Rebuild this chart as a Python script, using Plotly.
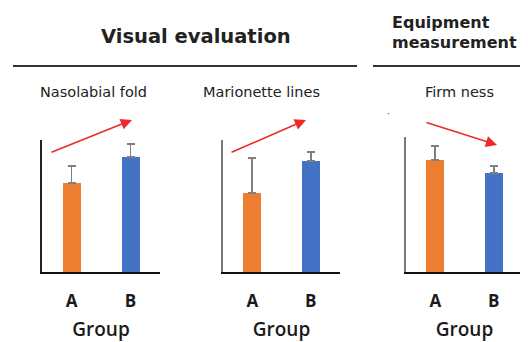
import plotly.graph_objects as go

W, H = 528, 342
OFF = 8  # page body margin of the html page
FW, FH = W - OFF, H - OFF

groups = ["A", "B"]
panel_titles = ["Nasolabial fold", "Marionette lines", "Firm ness"]
means = [[67.4, 87.1], [59.8, 84.1], [83.0, 73.3]]
errors = [[12.9, 9.8], [26.5, 6.8], [10.4, 5.2]]
bar_colors = ["#ED7D31", "#4472C4"]
section_titles = ["Visual evaluation", "Equipment", "measurement"]
# trend arrows (tail -> head) in each panel's data units
arrow_tail = [(-0.364, 90.2), (-0.38, 90.2), (-0.175, 111.1)]
arrow_head = [(1.025, 115.2), (0.919, 115.2), (1.056, 94.1)]

def px_x(p):
    return (p - OFF) / FW

def px_y(p):
    return 1 - (p - OFF) / FH

x_domains = [(42, 160), (223, 340), (406, 523)]
y_tops = [140, 140, 137]
y_base = 272
yaxis_colors = ["#222222", "#7a7a7a", "#7a7a7a"]

fig = go.Figure()
for i in range(3):
    xa = "x" if i == 0 else f"x{i+1}"
    ya = "y" if i == 0 else f"y{i+1}"
    fig.add_trace(go.Bar(
        x=groups, y=means[i], xaxis=xa, yaxis=ya,
        marker=dict(color=bar_colors, line=dict(width=0)),
        width=0.305,
        error_y=dict(type="data", symmetric=False, array=errors[i],
                     arrayminus=[0, 0], color="#7f7f7f", thickness=1.6, width=4),
        showlegend=False,
    ))
    xkey = "xaxis" if i == 0 else f"xaxis{i+1}"
    ykey = "yaxis" if i == 0 else f"yaxis{i+1}"
    fig.layout[xkey] = dict(
        domain=[px_x(x_domains[i][0]), px_x(x_domains[i][1])],
        anchor=ya, range=[-0.5, 1.5], type="category",
        showline=True, linecolor="#111111", linewidth=2,
        showgrid=False, zeroline=False,
        ticks="outside", ticklen=13, tickcolor="rgba(0,0,0,0)",
        tickfont=dict(family="Open Sans", size=17, color="#1a1a1a", weight=700),
        title=dict(text="Group", standoff=11,
                   font=dict(family="Open Sans", size=19, color="#1a1a1a", weight=600)),
    )
    fig.layout[ykey] = dict(
        domain=[px_y(y_base), px_y(y_tops[i])],
        anchor=xa, range=[0, 100],
        showline=True, linecolor=yaxis_colors[i], linewidth=2,
        showgrid=False, zeroline=False, showticklabels=False, ticks="",
    )
    fig.add_annotation(
        x=arrow_head[i][0], y=arrow_head[i][1], xref=xa, yref=ya,
        ax=arrow_tail[i][0], ay=arrow_tail[i][1], axref=xa, ayref=ya,
        text="", showarrow=True, arrowhead=2, arrowsize=1.4,
        arrowwidth=1.6, arrowcolor="#EE2A2A", standoff=0,
    )

# section headings
fig.add_annotation(x=px_x(196), y=px_y(37), xref="paper", yref="paper",
                   xanchor="center", yanchor="middle",
                   text=section_titles[0], showarrow=False,
                   font=dict(family="DejaVu Sans", size=19.5, color="#222222", weight="bold"))
fig.add_annotation(x=px_x(391), y=px_y(23), xref="paper", yref="paper",
                   xanchor="left", yanchor="middle", borderpad=0,
                   text=section_titles[1], showarrow=False,
                   font=dict(family="DejaVu Sans", size=16, color="#222222", weight="bold"))
fig.add_annotation(x=px_x(391), y=px_y(42.5), xref="paper", yref="paper",
                   xanchor="left", yanchor="middle", borderpad=0,
                   text=section_titles[2], showarrow=False,
                   font=dict(family="DejaVu Sans", size=16, color="#222222", weight="bold"))
# panel subtitles
sub_x = [93, 261, 459]
for i in range(3):
    fig.add_annotation(x=px_x(sub_x[i]), y=px_y(92), xref="paper", yref="paper",
                       xanchor="center", yanchor="middle",
                       text=panel_titles[i], showarrow=False,
                       font=dict(family="DejaVu Sans", size=14.5, color="#222222"))
# stray dot
fig.add_annotation(x=px_x(388), y=px_y(114), xref="paper", yref="paper",
                   xanchor="center", yanchor="middle",
                   text="·", showarrow=False,
                   font=dict(family="DejaVu Sans", size=10, color="#555555"))

# rules under headings
fig.add_shape(type="line", xref="paper", yref="paper",
              x0=px_x(13), x1=px_x(357), y0=px_y(66), y1=px_y(66),
              line=dict(color="#333333", width=2))
fig.add_shape(type="line", xref="paper", yref="paper",
              x0=px_x(373), x1=1, y0=px_y(66), y1=px_y(66),
              line=dict(color="#333333", width=2))

fig.update_layout(
    width=FW, height=FH, margin=dict(l=0, r=0, t=0, b=0),
    paper_bgcolor="white", plot_bgcolor="white", bargap=0,
)
fig.write_html("out.html")
